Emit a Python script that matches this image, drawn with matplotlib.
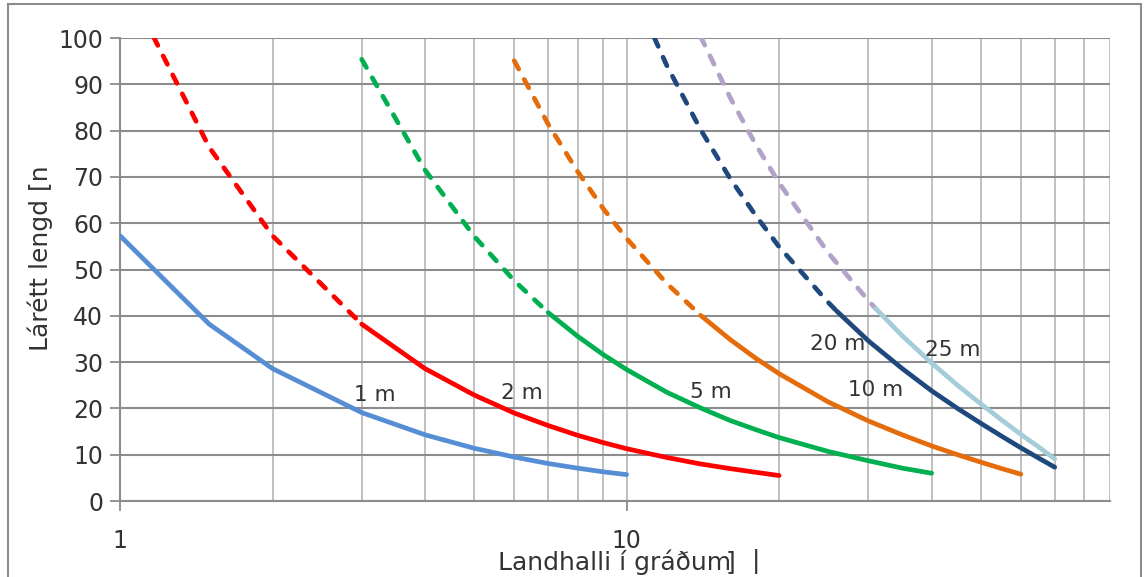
import numpy as np
import matplotlib
matplotlib.use('Agg')
import matplotlib.pyplot as plt
from matplotlib.patches import Rectangle
from matplotlib.ticker import FixedLocator, NullFormatter

# Slope in degrees vs horizontal length, for each height
# dashed = upper part (long lengths), solid = lower part
x_1m = [1, 1.5, 2, 3, 4, 5, 6, 7, 8, 9, 10]
y_1m = [57.3, 38.2, 28.6, 19.1, 14.3, 11.4, 9.5, 8.1, 7.1, 6.3, 5.7]

x_2m_dash = [1, 1.5, 2, 3]
y_2m_dash = [114.6, 76.4, 57.3, 38.2]
x_2m = [3, 4, 5, 6, 7, 8, 9, 10, 12, 14, 16, 18, 20]
y_2m = [38.2, 28.6, 22.9, 19.0, 16.3, 14.2, 12.6, 11.3, 9.4, 8.0, 7.0, 6.2, 5.5]

x_5m_dash = [3, 4, 5, 6, 7]
y_5m_dash = [95.4, 71.5, 57.2, 47.6, 40.7]
x_5m = [7, 8, 9, 10, 12, 14, 16, 18, 20, 25, 30, 35, 40]
y_5m = [40.7, 35.6, 31.6, 28.4, 23.5, 20.1, 17.4, 15.4, 13.7, 10.7, 8.7, 7.1, 6.0]

x_10m_dash = [6, 7, 8, 9, 10, 12, 14]
y_10m_dash = [95.1, 81.4, 71.2, 63.1, 56.7, 47.0, 40.1]
x_10m = [14, 16, 18, 20, 25, 30, 35, 40, 45, 50, 55, 60]
y_10m = [40.1, 34.9, 30.8, 27.5, 21.4, 17.3, 14.3, 11.9, 10.0, 8.4, 7.0, 5.8]

x_20m_dash = [10, 12, 14, 16, 18, 20, 25, 26]
y_20m_dash = [113.4, 94.1, 80.2, 69.7, 61.6, 54.9, 42.9, 41.0]
x_20m = [26, 30, 35, 40, 45, 50, 55, 60, 65, 70]
y_20m = [41.0, 34.6, 28.6, 23.8, 20.0, 16.8, 14.0, 11.5, 9.3, 7.3]

x_25m_dash = [14, 16, 18, 20, 25, 30, 31]
y_25m_dash = [100.3, 87.2, 76.9, 68.7, 53.6, 43.3, 41.6]
x_25m = [31, 35, 40, 45, 50, 55, 60, 65, 70]
y_25m = [41.6, 35.7, 29.8, 25.0, 21.0, 17.5, 14.4, 11.7, 9.1]

labels = ['1 m', '2 m', '5 m', '10 m', '20 m', '25 m']

plt.rcParams['font.family'] = ['DejaVu Sans']
txt_color = '#333333'

fig = plt.figure(figsize=(11.44, 5.77), dpi=100)
ax = fig.add_axes([0.1049, 0.1317, 0.8654, 0.8024])

lw = 3.4
dash = (2.0, 2.5)


def draw(x, y, color, dashed=False):
    if dashed:
        ax.plot(x, y, color=color, lw=lw, dashes=dash, dash_capstyle='round',
                dash_joinstyle='round', zorder=3)
    else:
        ax.plot(x, y, color=color, lw=lw, solid_capstyle='round',
                solid_joinstyle='round', zorder=3)


draw(x_1m, y_1m, '#558ED5')
draw(x_2m_dash, y_2m_dash, '#FF0000', True)
draw(x_2m, y_2m, '#FF0000')
draw(x_5m_dash, y_5m_dash, '#00B050', True)
draw(x_5m, y_5m, '#00B050')
draw(x_10m_dash, y_10m_dash, '#E46C0A', True)
draw(x_10m, y_10m, '#E46C0A')
draw(x_20m_dash, y_20m_dash, '#1F497D', True)
draw(x_20m, y_20m, '#1F497D')
draw(x_25m_dash, y_25m_dash, '#B3A2C7', True)
draw(x_25m, y_25m, '#A5CCD9')

# series labels
label_pos = [(3.18, 22.9), (6.2, 23.3), (14.7, 23.5), (31.0, 24.0), (26.1, 33.9), (44.0, 32.6)]
for lab, (lx, ly) in zip(labels, label_pos):
    ax.text(lx, ly, lab, fontsize=15.5, color=txt_color, ha='center', va='center', zorder=4)

ax.set_xscale('log')
ax.set_xlim(1, 90)
ax.set_ylim(0, 100)

ax.xaxis.set_major_locator(FixedLocator([1, 10]))
ax.xaxis.set_minor_locator(FixedLocator([2, 3, 4, 5, 6, 7, 8, 9, 20, 30, 40, 50, 60, 70, 80, 90]))
ax.xaxis.set_minor_formatter(NullFormatter())
ax.set_xticklabels(['1', '10'])
ax.set_yticks(np.arange(0, 101, 10))

ax.grid(True, which='both', axis='x', color='#BBBBBB', lw=1.3, zorder=0)
ax.grid(True, which='major', axis='y', color='#8C8C8C', lw=1.5, zorder=0)
ax.set_axisbelow(True)

for s in ['top', 'right']:
    ax.spines[s].set_visible(False)
ax.spines['left'].set_color('#8C8C8C')
ax.spines['bottom'].set_color('#8C8C8C')
ax.spines['left'].set_linewidth(1.5)
ax.spines['bottom'].set_linewidth(1.5)

ax.tick_params(axis='both', which='major', length=7, width=1.3, color='#8C8C8C',
               labelsize=17, labelcolor=txt_color)
ax.tick_params(axis='x', which='minor', length=0)
ax.tick_params(axis='x', which='major', pad=13)
ax.tick_params(axis='y', which='major', pad=5)

# axis titles
fig.text(40 / 1144, 1 - 258 / 577, 'Lárétt lengd [n', rotation=90, fontsize=18,
         color=txt_color, ha='center', va='center')
fig.text(498 / 1144, 1 - 562 / 577, 'Landhalli í gráðum', fontsize=18,
         color=txt_color, ha='left', va='center')
fig.text(726 / 1144, 1 - 562 / 577, ']', fontsize=18,
         color=txt_color, ha='left', va='center')
fig.text(752 / 1144, 1 - 562 / 577, '|', fontsize=18,
         color=txt_color, ha='left', va='center')

# outer frame
fig.patches.append(Rectangle((8 / 1144, -0.02), 1133 / 1144, 1.02 - 4 / 577,
                             transform=fig.transFigure, fill=False,
                             edgecolor='#8C8C8C', lw=1.5))

fig.savefig('out.png', dpi=100)
